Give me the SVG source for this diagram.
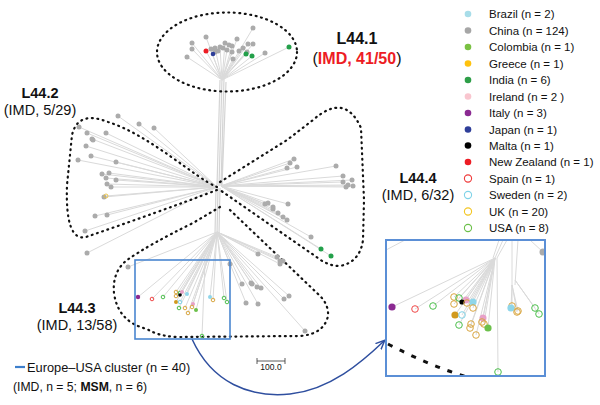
<svg xmlns="http://www.w3.org/2000/svg" width="600" height="405" viewBox="0 0 600 405">
<style>
text{font-family:"Liberation Sans",Arial,sans-serif;fill:#111}
.br{fill:none;stroke:#dadada;stroke-width:1}
.tr{fill:none;stroke:#d4d4d4;stroke-width:1.2}
.g{fill:#ababab}
.dash{fill:none;stroke:#111;stroke-width:2.2;stroke-dasharray:0.9 4.6;stroke-linecap:round}
.lab{font-size:14.5px;text-anchor:middle}
.leg{font-size:11.5px}
.gd{fill:none;stroke:#d9a640;stroke-width:1}
.gn{fill:none;stroke:#4cbf4c;stroke-width:1}
.cy{fill:none;stroke:#7fd3e8;stroke-width:1}
.rd{fill:none;stroke:#f04848;stroke-width:1}
</style>
<defs>
<marker id="arr" markerWidth="10" markerHeight="10" refX="8" refY="5" orient="auto" markerUnits="userSpaceOnUse">
<path d="M0,1 L9,5 L0,9" fill="none" stroke="#2f4f9f" stroke-width="1.5"/>
</marker>
<clipPath id="ic"><rect x="386" y="240" width="159" height="136"/></clipPath>
</defs>

<g id="connectors">
<path class="tr" d="M222,78 L219,186 M224,78 L221,186 M220,80 L217,186 M226,82 L222,186 M218,188 L217,234 M220,188 L219,234 M216,188 L215,234"/>
<path class="br" d="M222,80 L253,28 M222,80 L206,37 M222,80 L192,43 M222,80 L192,49 M222,80 L187,57 M222,80 L237,39 M222,80 L248,44 M222,80 L253,44 M222,80 L225,43 M222,80 L215,48 M222,80 L220,47 M222,80 L227,50 M222,80 L232,46 M222,80 L243,48 M222,80 L232,52 M222,80 L233,59 M222,80 L265,53 M222,80 L247,52 M222,80 L206,51 M222,80 L212,53 M222,80 L246,54 M222,80 L252,56 M222,80 L289,47"/>
<path class="br" d="M217,187 L118,116 M217,187 L139,124 M217,187 L154,128 M217,187 L79,127 M217,187 L87,133 M217,187 L106,133 M217,187 L92,139 M217,187 L86,146 M217,187 L91,156 M217,187 L78,160 M217,187 L116,162 M217,187 L102,174 M217,187 L109,173 M217,187 L106,178 M217,187 L116,180 M217,187 L107,184 M217,187 L111,187 M217,187 L104,197 M217,187 L106,196 M217,187 L95,216 M217,187 L107,215 M217,187 L85,231 M217,187 L87,253"/>
<path class="br" d="M221,186 L294,159 M221,186 L290,163 M221,186 L297,167 M221,186 L287,168 M221,186 L336,166 M221,186 L343,176 M221,186 L343,182 M221,186 L352,180 M221,186 L348,185 M221,186 L346,187 M221,186 L353,186 M221,186 L265,204 M221,186 L268,203 M221,186 L273,207 M221,186 L273,209 M221,186 L278,213 M221,186 L283,217 M221,186 L287,220 M221,186 L288,204 M221,186 L311,237 M221,186 L321,249 M221,186 L331,256"/>
<path class="br" d="M217,232 L258,254 M217,232 L277,257 M217,232 L280,261 M217,232 L283,261 M217,232 L280,264 M217,232 L242,284 M217,232 L251,283 M217,232 L252,284 M217,232 L257,287 M217,232 L261,288 M217,232 L246,303 M217,232 L258,304 M217,232 L284,299 M217,232 L289,296 M217,232 L305,331 M217,232 L230,264 M217,232 L128,267 M217,232 L138,297 M217,232 L152,299 M217,232 L163,297 M217,232 L176,292 M217,232 L176,296 M217,232 L180,293 M217,232 L182,292 M217,232 L187,294 M217,232 L176,302 M217,232 L180,302 M217,232 L179,308 M217,232 L185,308 M217,232 L188,313 M217,232 L193,304 M217,232 L192,307 M217,232 L196,310 M217,232 L210,297 M217,232 L213,300 M217,232 L224,298 M217,232 L227,302 M217,232 L205,262 L202,336"/>
<path d="M192,339 C212,383 250,398 290,394 C330,390 362,362 384,341" fill="none" stroke="#2f4f9f" stroke-width="1.5" marker-end="url(#arr)"/>
</g>

<g id="clade-boundaries">
<ellipse class="dash" cx="227" cy="52" rx="70" ry="39.5"/>
<path class="dash" d="M217,187 C195,178 150,135 108,122 Q78,110 72,135 L67,185 Q65,242 86,237 C130,222 180,204 217,190"/>
<path class="dash" d="M220,182 L287,140 L313,120 Q345,92 361,128 L364,200 L363,240 Q360,262 340,266 Q328,266 318,258 L220,190"/>
<path class="dash" d="M220,207 L193,223 Q150,244 127,260 Q112,272 114,293 Q118,322 147,329 Q160,337 180,337 L300,336 Q324,334 328,316 Q329,304 318,294 L230,210"/>
</g>

<g id="clade-L44.1">
<g class="g">
<circle cx="253" cy="28" r="2.5"/><circle cx="206" cy="37" r="2.5"/><circle cx="192" cy="43" r="2.5"/><circle cx="192" cy="49" r="2.5"/><circle cx="187" cy="57" r="2.5"/><circle cx="237" cy="39" r="2.5"/><circle cx="248" cy="44" r="2.5"/><circle cx="253" cy="44" r="2.5"/><circle cx="225" cy="43" r="2.5"/><circle cx="215" cy="48" r="2.5"/><circle cx="220" cy="47" r="2.5"/><circle cx="227" cy="50" r="2.5"/><circle cx="232" cy="46" r="2.5"/><circle cx="243" cy="48" r="2.5"/><circle cx="232" cy="52" r="2.5"/><circle cx="233" cy="59" r="2.5"/><circle cx="265" cy="53" r="2.5"/><circle cx="247" cy="52" r="2.5"/><circle cx="211" cy="49" r="2.5"/><circle cx="218" cy="51" r="2.5"/><circle cx="223" cy="48" r="2.5"/><circle cx="229" cy="45" r="2.5"/><circle cx="239" cy="51" r="2.5"/><circle cx="215" cy="52" r="2.5"/>
</g>
<circle cx="206" cy="51" r="2.5" fill="#ed1c24"/>
<circle cx="213" cy="54" r="2.3" fill="#2e3e99"/>
<circle cx="246" cy="54" r="2.5" fill="#23a04a"/><circle cx="252" cy="56" r="2.5" fill="#23a04a"/><circle cx="289" cy="47" r="2.5" fill="#23a04a"/>
</g>

<g id="clade-L44.2" class="g">
<circle cx="118" cy="116" r="2.5"/><circle cx="139" cy="124" r="2.5"/><circle cx="154" cy="128" r="2.5"/><circle cx="79" cy="127" r="2.5"/><circle cx="87" cy="133" r="2.5"/><circle cx="106" cy="133" r="2.5"/><circle cx="92" cy="139" r="2.5"/><circle cx="93" cy="140" r="2.5"/><circle cx="86" cy="146" r="2.5"/><circle cx="91" cy="156" r="2.5"/><circle cx="78" cy="160" r="2.5"/><circle cx="116" cy="162" r="2.5"/><circle cx="102" cy="174" r="2.5"/><circle cx="109" cy="173" r="2.5"/><circle cx="106" cy="178" r="2.5"/><circle cx="116" cy="180" r="2.5"/><circle cx="107" cy="184" r="2.5"/><circle cx="111" cy="187" r="2.5"/><circle cx="104" cy="197" r="2.5"/><circle cx="95" cy="216" r="2.5"/><circle cx="107" cy="215" r="2.5"/><circle cx="85" cy="231" r="2.5"/><circle cx="87" cy="253" r="2.5"/>
<circle cx="106" cy="196" r="2" fill="none" stroke="#e8c040" stroke-width="0.9"/>
</g>

<g id="clade-L44.4">
<g class="g">
<circle cx="294" cy="159" r="2.5"/><circle cx="290" cy="163" r="2.5"/><circle cx="297" cy="167" r="2.5"/><circle cx="287" cy="168" r="2.5"/><circle cx="336" cy="166" r="2.5"/><circle cx="343" cy="176" r="2.5"/><circle cx="343" cy="182" r="2.5"/><circle cx="352" cy="180" r="2.5"/><circle cx="348" cy="185" r="2.5"/><circle cx="346" cy="187" r="2.5"/><circle cx="353" cy="186" r="2.5"/><circle cx="265" cy="204" r="2.5"/><circle cx="268" cy="203" r="2.5"/><circle cx="273" cy="207" r="2.5"/><circle cx="273" cy="209" r="2.5"/><circle cx="278" cy="213" r="2.5"/><circle cx="283" cy="217" r="2.5"/><circle cx="287" cy="220" r="2.5"/><circle cx="288" cy="204" r="2.5"/><circle cx="311" cy="237" r="2.5"/>
</g>
<circle cx="321" cy="249" r="2.5" fill="#23a04a"/><circle cx="331" cy="256" r="2.5" fill="#23a04a"/>
</g>

<g id="clade-L44.3">
<g class="g">
<circle cx="258" cy="254" r="2.5"/><circle cx="277" cy="257" r="2.5"/><circle cx="280" cy="261" r="2.5"/><circle cx="283" cy="261" r="2.5"/><circle cx="280" cy="264" r="2.5"/><circle cx="242" cy="284" r="2.5"/><circle cx="251" cy="283" r="2.5"/><circle cx="252" cy="284" r="2.5"/><circle cx="257" cy="287" r="2.5"/><circle cx="261" cy="288" r="2.5"/><circle cx="246" cy="303" r="2.5"/><circle cx="258" cy="304" r="2.5"/><circle cx="284" cy="299" r="2.5"/><circle cx="289" cy="296" r="2.5"/><circle cx="305" cy="331" r="2.5"/><circle cx="230" cy="264" r="2.5"/><circle cx="128" cy="267" r="2.5"/>
</g>
<circle cx="138" cy="297" r="2.2" fill="#8b2a92"/>
<circle cx="152" cy="299" r="1.8" class="rd"/>
<circle cx="163" cy="297" r="1.8" class="gn"/>
<circle cx="176" cy="292" r="1.8" class="gd"/><circle cx="176" cy="296" r="1.8" class="gd"/><circle cx="180" cy="293" r="1.8" class="gn"/>
<circle cx="182" cy="292" r="2" fill="#e7a0c8"/><circle cx="180" cy="295" r="1.8" fill="#000"/>
<circle cx="187" cy="294" r="2" fill="#8fd6ea"/>
<circle cx="176" cy="302" r="2" fill="#d19a1e"/><circle cx="180" cy="302" r="1.8" class="cy"/>
<circle cx="179" cy="308" r="1.8" class="gn"/><circle cx="185" cy="308" r="1.8" class="gd"/><circle cx="188" cy="313" r="1.8" class="gd"/>
<circle cx="193" cy="304" r="2" fill="#e7a0c8"/><circle cx="192" cy="307" r="1.8" class="gd"/><circle cx="196" cy="310" r="2" fill="#6cc04a"/>
<circle cx="210" cy="297" r="2" fill="#8fd6ea"/><circle cx="213" cy="300" r="1.8" class="gd"/>
<circle cx="224" cy="298" r="1.8" class="gn"/><circle cx="227" cy="302" r="1.8" class="gn"/>
<circle cx="202" cy="336" r="1.8" class="gn"/>
<rect x="135" y="260" width="95" height="79" fill="none" stroke="#4a86d0" stroke-width="1.6"/>
</g>

<g id="inset">
<g clip-path="url(#ic)">
<path class="br" d="M386,250 L405,240 M495,258 L503,240 M497,258 L507,240 M493,258 L499,240 M512,285 L512,240 M515,285 L518,240 M543,252 L530,240 M495,258 L392,307 M495,258 L415,309 M495,258 L433,306 M495,258 L454,297 M495,258 L454,304 M495,258 L459,298 M495,258 L462,302 M495,258 L466,300 M495,258 L467,303 M495,258 L473,302 M495,258 L473,308 M495,258 L455,315 M495,258 L462,315 M495,258 L459,325 M495,258 L470,328 M495,258 L471,324 M495,258 L476,335 M495,258 L483,318 M495,258 L482,322 M495,258 L484,323 M495,258 L488,328 M497,258 L498,372 M512,285 L512,306 M512,285 L511,308 M512,285 L518,311 M512,285 L517,312 M515,280 L535,308 M515,280 L539,314"/>
<path d="M388,344 Q430,366 470,378" fill="none" stroke="#111" stroke-width="3" stroke-dasharray="5 8"/>
<circle cx="543" cy="252" r="3.5" class="g"/>
<circle cx="392" cy="307" r="3.6" fill="#8b2a92"/>
<circle cx="415" cy="309" r="3.3" class="rd" stroke-width="1.3"/>
<circle cx="433" cy="306" r="3.3" class="gn" stroke-width="1.3"/>
<circle cx="454" cy="297" r="3.3" class="gd" stroke-width="1.3"/><circle cx="454" cy="304" r="3.3" class="gd" stroke-width="1.3"/>
<circle cx="459" cy="298" r="3.3" class="gn" stroke-width="1.3"/>
<circle cx="466" cy="300" r="3.5" fill="#e7a0c8"/>
<circle cx="462" cy="302" r="2.6" fill="#000"/>
<circle cx="467" cy="303" r="3.3" class="gd" stroke-width="1.3"/>
<circle cx="473" cy="302" r="3.6" fill="#8fd6ea"/>
<circle cx="473" cy="308" r="3.3" class="gd" stroke-width="1.3"/>
<circle cx="455" cy="315" r="3.6" fill="#d19a1e"/>
<circle cx="462" cy="315" r="3.3" class="cy" stroke-width="1.3"/>
<circle cx="459" cy="325" r="3.3" class="gn" stroke-width="1.3"/>
<circle cx="471" cy="324" r="3.3" class="gd" stroke-width="1.3"/><circle cx="470" cy="328" r="3.3" class="gd" stroke-width="1.3"/><circle cx="476" cy="335" r="3.3" class="gd" stroke-width="1.3"/>
<circle cx="483" cy="318" r="3.5" fill="#e7a0c8"/>
<circle cx="482" cy="322" r="3.3" class="gd" stroke-width="1.3"/><circle cx="484" cy="324" r="3.3" class="gd" stroke-width="1.3"/>
<circle cx="488" cy="328" r="3.6" fill="#6cc04a"/>
<circle cx="512" cy="306" r="3.3" class="gd" stroke-width="1.3"/>
<circle cx="511" cy="308" r="3.6" fill="#8fd6ea"/>
<circle cx="518" cy="311" r="3.3" class="gd" stroke-width="1.3"/><circle cx="517" cy="312" r="3.3" class="gd" stroke-width="1.3"/>
<circle cx="535" cy="308" r="3.3" class="gn" stroke-width="1.3"/><circle cx="539" cy="314" r="3.3" class="gn" stroke-width="1.3"/>
<circle cx="498" cy="372" r="3.3" class="gn" stroke-width="1.3"/>
</g>
<rect x="386" y="240" width="159" height="136" fill="none" stroke="#5b8fd6" stroke-width="2"/>
</g>

<g id="labels">
<text x="357" y="44" text-anchor="middle" font-size="16" font-weight="bold">L44.1</text>
<text x="357" y="64" text-anchor="middle" font-size="16">(<tspan font-weight="bold" style="fill:#ed1c24">IMD, 41/50</tspan>)</text>
<text x="40" y="98" class="lab" font-weight="bold">L44.2</text>
<text x="40" y="115" class="lab">(IMD, 5/29)</text>
<text x="418" y="183" class="lab" font-weight="bold">L44.4</text>
<text x="418" y="200" class="lab">(IMD, 6/32)</text>
<text x="77" y="313" class="lab" font-weight="bold">L44.3</text>
<text x="77" y="330" class="lab">(IMD, 13/58)</text>
</g>

<g id="cluster-key">
<line x1="15" y1="367" x2="25" y2="367" stroke="#3d7fcc" stroke-width="2.2"/>
<text x="27" y="372" font-size="12.8">Europe–USA cluster (n = 40)</text>
<text x="13" y="391" font-size="12.2">(IMD, n = 5; <tspan font-weight="bold">MSM</tspan>, n = 6)</text>
</g>

<g id="scale-bar">
<path d="M257,361 L285,361 M257,358 L257,364 M285,358 L285,364" stroke="#333" stroke-width="0.8" fill="none"/>
<text x="271" y="370" font-size="8.5" text-anchor="middle">100.0</text>
</g>

<g id="legend">
<g id="leg-brazil"><circle cx="468" cy="14" r="3.3" fill="#a8dde9"/><text x="489" y="18" class="leg">Brazil (n = 2)</text></g>
<g id="leg-china"><circle cx="468" cy="30.5" r="3.3" fill="#a6a6a6"/><text x="489" y="34.5" class="leg">China (n = 124)</text></g>
<g id="leg-colombia"><circle cx="468" cy="47" r="3.3" fill="#7ac143"/><text x="489" y="51" class="leg">Colombia (n = 1)</text></g>
<g id="leg-greece"><circle cx="468" cy="63.5" r="3.3" fill="#ffc20e"/><text x="489" y="67.5" class="leg">Greece (n = 1)</text></g>
<g id="leg-india"><circle cx="468" cy="80" r="3.3" fill="#2e9e48"/><text x="489" y="84" class="leg">India (n = 6)</text></g>
<g id="leg-ireland"><circle cx="468" cy="96.5" r="3.3" fill="#f9c6cf"/><text x="489" y="100.5" class="leg">Ireland (n = 2 )</text></g>
<g id="leg-italy"><circle cx="468" cy="113" r="3.3" fill="#8b2a92"/><text x="489" y="117" class="leg">Italy (n = 3)</text></g>
<g id="leg-japan"><circle cx="468" cy="129.5" r="3.3" fill="#2e3e99"/><text x="489" y="133.5" class="leg">Japan (n = 1)</text></g>
<g id="leg-malta"><circle cx="468" cy="145.5" r="3.3" fill="#000"/><text x="489" y="149.5" class="leg">Malta (n = 1)</text></g>
<g id="leg-nz"><circle cx="468" cy="162" r="3.3" fill="#ed1c24"/><text x="489" y="166" class="leg">New Zealand (n = 1)</text></g>
<g id="leg-spain"><circle cx="468" cy="178.5" r="3.6" fill="none" stroke="#ef3b3b" stroke-width="1.1"/><text x="489" y="182.5" class="leg">Spain (n = 1)</text></g>
<g id="leg-sweden"><circle cx="468" cy="195" r="3.6" fill="none" stroke="#7fd3e8" stroke-width="1.1"/><text x="489" y="199" class="leg">Sweden (n = 2)</text></g>
<g id="leg-uk"><circle cx="468" cy="211.5" r="3.6" fill="none" stroke="#f3c623" stroke-width="1.1"/><text x="489" y="215.5" class="leg">UK (n = 20)</text></g>
<g id="leg-usa"><circle cx="468" cy="228" r="3.6" fill="none" stroke="#6cc04a" stroke-width="1.1"/><text x="489" y="232" class="leg">USA (n = 8)</text></g>
</g>
</svg>
